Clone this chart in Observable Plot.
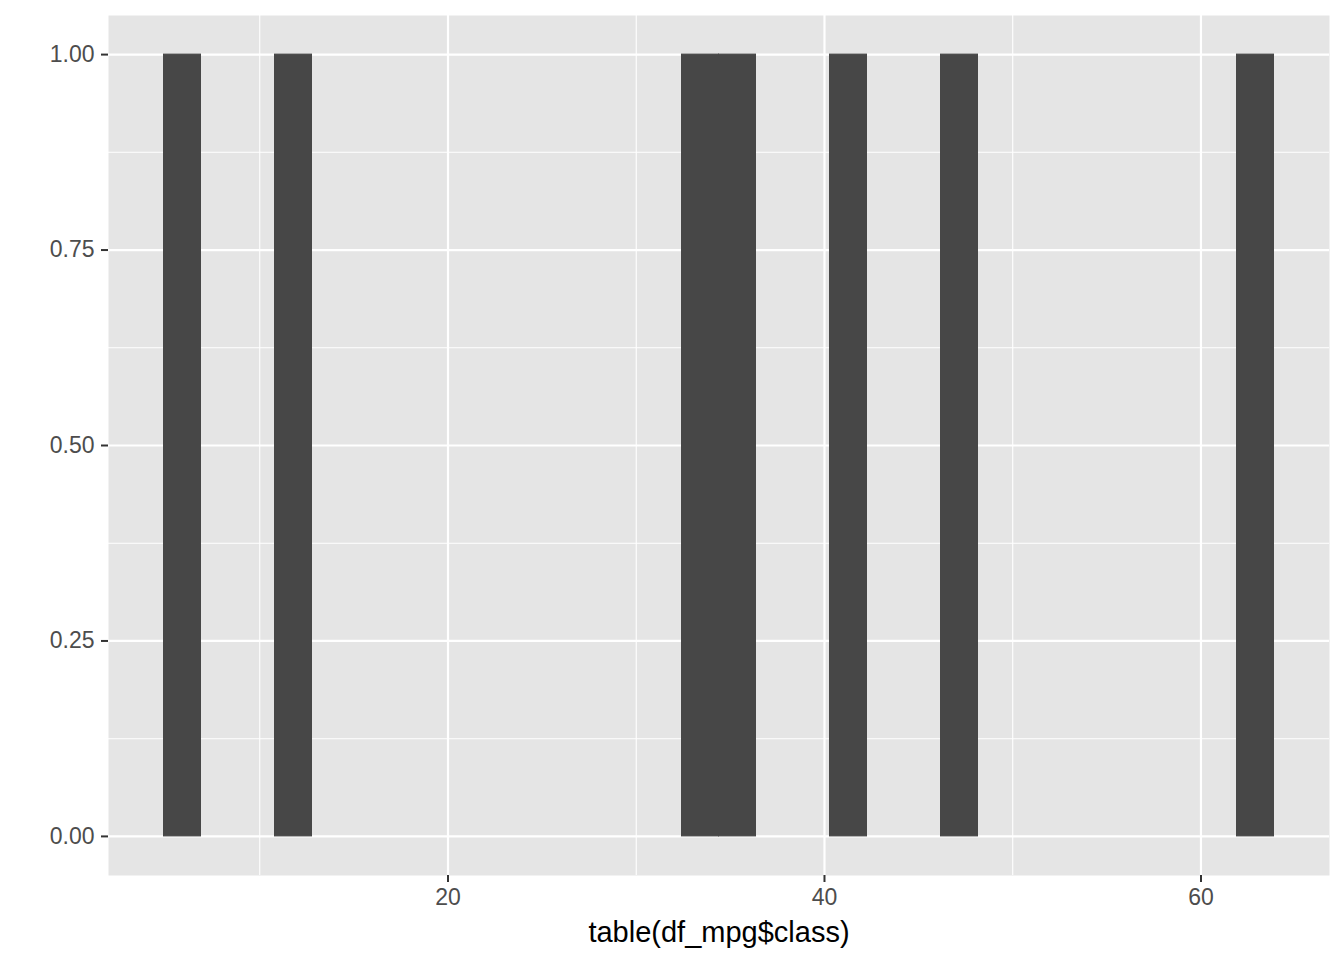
<!DOCTYPE html>
<html>
<head>
<meta charset="utf-8">
<script src="https://cdn.jsdelivr.net/npm/d3@7"></script>
<script src="https://cdn.jsdelivr.net/npm/@observablehq/plot@0.6"></script>
<style>
  html, body { margin: 0; padding: 0; background: #ffffff; }
  svg { display: block; font-family: "Liberation Sans", Arial, sans-serif; }
</style>
</head>
<body>
<div id="chart"></div>
<script>
// counts per class of df_mpg (table(df_mpg$class))
const classes = ["2seater", "compact", "midsize", "minivan", "pickup", "subcompact", "suv"];
const classCounts = [5, 47, 41, 11, 33, 35, 62];
const nBins = 30;
const xTicks = [20, 40, 60];
const xMinor = [10, 30, 50];
const yTicks = [0, 0.25, 0.5, 0.75, 1];
const yMinor = [0.125, 0.375, 0.625, 0.875];
const xLabel = "table(df_mpg$class)";

// ggplot2-style bin breaks (bins = 30)
const lo = d3.min(classCounts), hi = d3.max(classCounts);
const bw = (hi - lo) / (nBins - 1);
const boundary = bw / 2;
const origin = boundary + Math.floor((lo - boundary) / bw) * bw;
const breaks = [];
for (let b = origin; b < hi + bw; b += bw) breaks.push(b);
const x0 = breaks[0], x1 = breaks[breaks.length - 1];
const xpad = (x1 - x0) * 0.05;

const plot = Plot.plot({
  width: 1344,
  height: 960,
  marginLeft: 108,
  marginRight: 15,
  marginTop: 15,
  marginBottom: 85,
  style: {background: "#ffffff", fontFamily: "Liberation Sans, Arial, sans-serif"},
  x: {domain: [x0 - xpad, x1 + xpad]},
  y: {domain: [-0.05, 1.05]},
  marks: [
    Plot.frame({fill: "#E5E5E5", stroke: null}),
    Plot.ruleX(xMinor, {stroke: "#ffffff", strokeWidth: 1.1}),
    Plot.ruleY(yMinor, {stroke: "#ffffff", strokeWidth: 1.1}),
    Plot.ruleX(xTicks, {stroke: "#ffffff", strokeWidth: 2.2}),
    Plot.ruleY(yTicks, {stroke: "#ffffff", strokeWidth: 2.2}),
    Plot.rectY(classCounts, Plot.binX({y: "count"}, {
      x: d => d,
      thresholds: breaks,
      fill: "#474747",
      stroke: "#474747",
      strokeWidth: 1,
      insetLeft: 0,
      insetRight: 0
    })),
    Plot.axisX(xTicks, {
      tickSize: 7, tickPadding: 6, fontSize: 23, label: null,
      stroke: "#333333", strokeWidth: 2, fill: "#4D4D4D"
    }),
    Plot.axisY(yTicks, {
      tickSize: 7, tickPadding: 7, fontSize: 23, label: null,
      tickFormat: d3.format(".2f"),
      stroke: "#333333", strokeWidth: 2, fill: "#4D4D4D"
    }),
    Plot.text([xLabel], {
      text: d => d, frameAnchor: "bottom", dy: 57, lineAnchor: "middle",
      fontSize: 29, fill: "#000000"
    })
  ]
});
document.getElementById("chart").appendChild(plot);
</script>
</body>
</html>
